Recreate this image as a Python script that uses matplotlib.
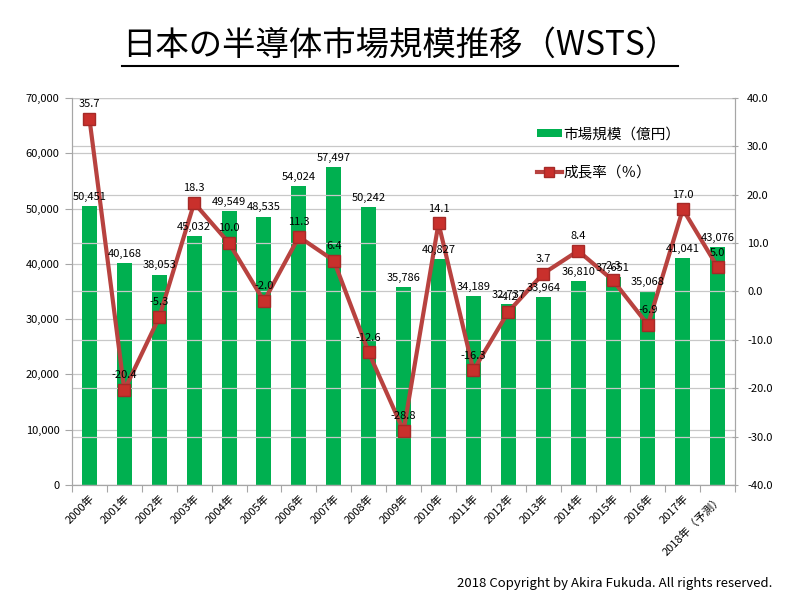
import matplotlib
matplotlib.use("Agg")
from matplotlib import pyplot as plt
from matplotlib.lines import Line2D
from matplotlib.patches import Patch

plt.rcParams['font.family'] = ['Noto Sans CJK JP', 'DejaVu Sans']

years = ["2000年", "2001年", "2002年", "2003年", "2004年", "2005年", "2006年",
         "2007年", "2008年", "2009年", "2010年", "2011年", "2012年", "2013年",
         "2014年", "2015年", "2016年", "2017年", "2018年（予測）"]
market = [50451, 40168, 38053, 45032, 49549, 48535, 54024, 57497, 50242, 35786,
          40827, 34189, 32737, 33964, 36810, 37651, 35068, 41041, 43076]
growth = [35.7, -20.4, -5.3, 18.3, 10.0, -2.0, 11.3, 6.4, -12.6, -28.8,
          14.1, -16.3, -4.2, 3.7, 8.4, 2.3, -6.9, 17.0, 5.0]

GREEN = "#00B050"
RED_LINE = "#B8423F"
RED_FACE = "#C9302C"
GRID = "#C8C8C8"
AXIS = "#A6A6A6"

fig = plt.figure(figsize=(8, 6), dpi=100)
ax = fig.add_axes([0.09, 0.1917, 0.829, 0.645])
ax2 = ax.twinx()

x = list(range(len(years)))
ax.bar(x, market, width=0.43, color=GREEN, zorder=2)
ax.set_ylim(0, 70000)
ax.set_xlim(-0.5, len(years) - 0.5)
ax.set_yticks(range(0, 70001, 10000))
ax.set_yticklabels([f"{v:,}" for v in range(0, 70001, 10000)], fontsize=8)
ax.yaxis.grid(True, color=GRID, linewidth=0.9, zorder=0)
ax.set_axisbelow(True)

# category ticks between bars, labels under bar centres
ax.set_xticks([i - 0.5 for i in range(len(years) + 1)], minor=False)
ax.set_xticklabels([])
ax.set_xticks(x, minor=True)
ax.set_xticklabels(years, minor=True, rotation=45, ha="right",
                   rotation_mode="anchor", fontsize=8)
ax.tick_params(axis="x", which="minor", length=0, pad=6)
ax.tick_params(axis="x", which="major", length=5, color=AXIS)
ax.tick_params(axis="y", length=5, color=AXIS, pad=4)

for a in (ax, ax2):
    a.spines["top"].set_visible(False)
    for sp in ("left", "right", "bottom"):
        a.spines[sp].set_color(AXIS)

ax2.plot(x, growth, color=RED_LINE, linewidth=3, marker="s", markersize=8,
         markerfacecolor=RED_FACE, markeredgecolor="#A52A27", zorder=4)
ax2.set_ylim(-40, 40)
ax2.set_yticks(range(-40, 41, 10))
ax2.set_yticklabels([f"{v:.1f}" for v in range(-40, 41, 10)], fontsize=8)
ax2.yaxis.grid(True, color=GRID, linewidth=0.9, zorder=0)
ax2.tick_params(axis="y", length=5, direction="inout", color=AXIS, pad=6)
ax.set_zorder(ax2.get_zorder() - 1)
ax2.patch.set_visible(False)

for i, v in enumerate(market):
    ax2.annotate(f"{v:,}", xy=(i, v / 70000 * 80 - 40), xytext=(0, 3),
                 textcoords="offset points", ha="center", va="bottom",
                 fontsize=8, zorder=5)
for i, v in enumerate(growth):
    ax2.annotate(f"{v:.1f}", xy=(i, v), xytext=(0, 7),
                 textcoords="offset points", ha="center", va="bottom",
                 fontsize=8, zorder=5)

handles = [Patch(facecolor=GREEN, edgecolor="none"),
           Line2D([], [], color=RED_LINE, linewidth=3, marker="s", markersize=7,
                  markerfacecolor=RED_FACE, markeredgecolor="#A52A27")]
fig.legend(handles, ["市場規模（億円）", "成長率（％）"], loc="upper left",
           bbox_to_anchor=(0.662, 0.80), frameon=False, fontsize=10.5,
           handlelength=1.7, handleheight=0.5, handletextpad=0.1,
           labelspacing=1.65, borderpad=0)

title = fig.text(0.5, 0.925, "日本の半導体市場規模推移（WSTS）", ha="center",
                 va="center", fontsize=24)
fig.canvas.draw()
bb = title.get_window_extent().transformed(fig.transFigure.inverted())
fig.add_artist(Line2D([bb.x0, bb.x1], [1 - 66 / 600] * 2, color="black",
                      linewidth=1.5, transform=fig.transFigure))

fig.text(0.965, 0.028, "2018 Copyright by Akira Fukuda. All rights reserved.",
         ha="right", va="center", fontsize=9.5)

fig.savefig("out.png", dpi=100)
